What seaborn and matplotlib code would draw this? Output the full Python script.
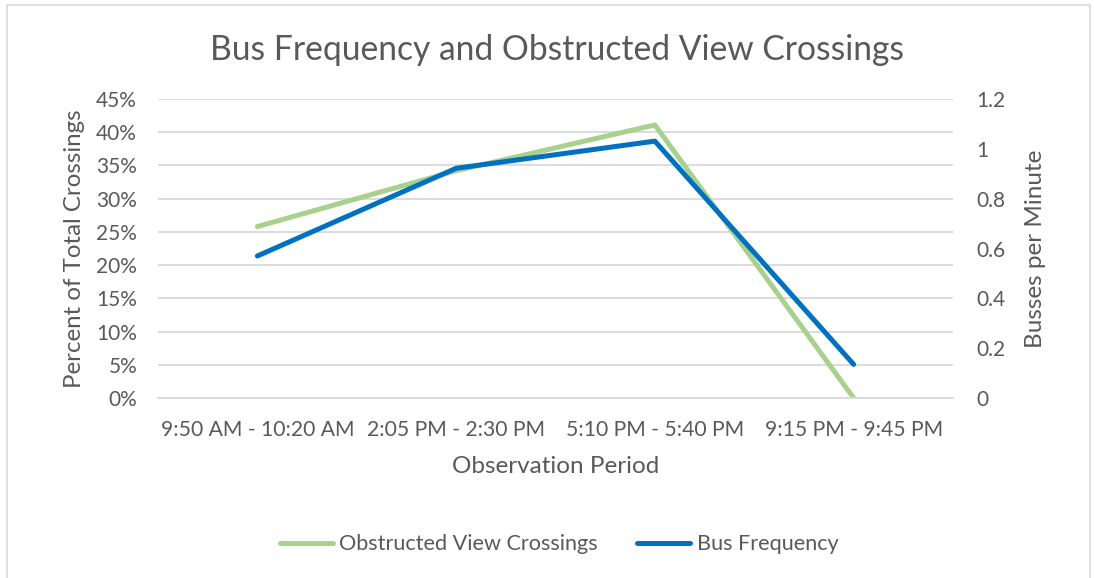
import matplotlib
matplotlib.use("Agg")
import matplotlib.pyplot as plt
import seaborn as sns
import pandas as pd
from matplotlib.patches import Rectangle
from matplotlib.lines import Line2D
from matplotlib.ticker import FuncFormatter

periods = ["9:50 AM - 10:20 AM", "2:05 PM - 2:30 PM", "5:10 PM - 5:40 PM", "9:15 PM - 9:45 PM"]
obstructed_pct = [0.258, 0.342, 0.411, 0.0]
bus_per_min = [0.570, 0.922, 1.031, 0.135]

sns.set_theme(style="white")
plt.rcParams['font.family'] = ['Lato', 'DejaVu Sans']

GREEN = "#a9d18e"
BLUE = "#0070c0"
TXT = "#595959"
GRID = "#d9d9d9"

df = pd.DataFrame({"period": periods, "obstructed": obstructed_pct, "bus": bus_per_min})

fig = plt.figure(figsize=(10.94, 5.78), dpi=100)
ax = fig.add_axes([0.1444, 0.3114, 0.8711 - 0.1444, 0.8287 - 0.3114])
ax2 = ax.twinx()

sns.lineplot(data=df, x="period", y="obstructed", ax=ax, color=GREEN, lw=3.6, sort=False,
             solid_capstyle="round")
sns.lineplot(data=df, x="period", y="bus", ax=ax2, color=BLUE, lw=3.6, sort=False,
             solid_capstyle="round")

ax.set_xlim(-0.5, 3.5)
ax.set_ylim(0, 0.45)
ax2.set_ylim(0, 1.2)
ax.set_yticks([i * 0.05 for i in range(10)])
ax.yaxis.set_major_formatter(FuncFormatter(lambda v, p: f"{round(v*100)}%"))
ax2.set_yticks([0, 0.2, 0.4, 0.6, 0.8, 1.0, 1.2])
ax2.yaxis.set_major_formatter(FuncFormatter(lambda v, p: f"{v:g}"))

ax.grid(axis="y", color=GRID, lw=1.3)
ax.set_axisbelow(True)
for a in (ax, ax2):
    for s in a.spines.values():
        s.set_visible(False)
ax.spines["bottom"].set_visible(True)
ax.spines["bottom"].set_color(GRID)
ax.spines["bottom"].set_linewidth(1.3)

ax.tick_params(axis="x", colors=GRID, length=7, width=1.1, direction="out", labelcolor=TXT,
               labelsize=15.2, pad=9)
ax.tick_params(axis="y", length=0, labelcolor=TXT, labelsize=15, pad=15)
ax2.tick_params(axis="y", length=0, labelcolor=TXT, labelsize=15, pad=17)

ax.set_xlabel("Observation Period", color=TXT, fontsize=17.5, labelpad=11)
ax.set_ylabel("Percent of Total Crossings", color=TXT, fontsize=17.3, labelpad=8)
ax2.set_ylabel("Busses per Minute", color=TXT, fontsize=17.5, labelpad=14)

fig.text(0.509, 0.913, "Bus Frequency and Obstructed View Crossings", ha="center", va="center",
         color=TXT, fontsize=24.2)

handles = [Line2D([0], [0], color=GREEN, lw=3.6, solid_capstyle="round"),
           Line2D([0], [0], color=BLUE, lw=3.6, solid_capstyle="round")]
fig.legend(handles, ["Obstructed View Crossings", "Bus Frequency"], loc="center",
           bbox_to_anchor=(0.511, 0.058), ncol=2, frameon=False, fontsize=15.6,
           labelcolor=TXT, handlelength=2.45, handletextpad=0.3, columnspacing=1.8)

fig.patches.append(Rectangle((0.006, -0.01), 0.99, 1.002, transform=fig.transFigure,
                             fill=False, edgecolor="#d9d9d9", lw=1.2))

fig.savefig("out.png", dpi=100, facecolor="white")
